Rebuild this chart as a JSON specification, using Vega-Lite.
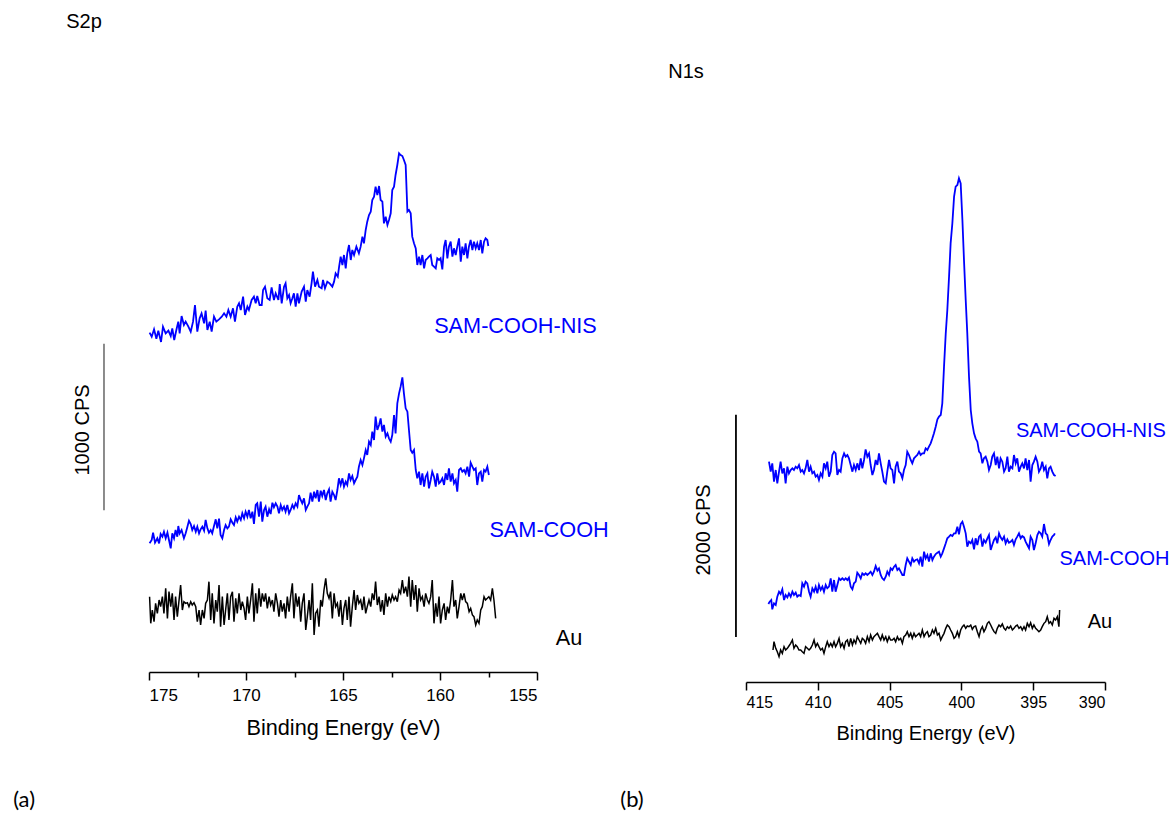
{
"$schema":"https://vega.github.io/schema/vega-lite/v6.json",
"padding":{"left":13,"top":12,"right":0,"bottom":0},
"background":"white",
"config":{"view":{"stroke":null},"font":"Liberation Sans"},
"spacing":209,
"bounds":"flush",
"datasets":{
"sL":[{"x":174.97,"y":2036},{"x":174.86,"y":2012},{"x":174.74,"y":2056},{"x":174.62,"y":2000},{"x":174.52,"y":2048},{"x":174.38,"y":1980},{"x":174.28,"y":2072},{"x":174.14,"y":2032},{"x":174.0,"y":2048},{"x":173.88,"y":2016},{"x":173.8,"y":2062},{"x":173.7,"y":1992},{"x":173.59,"y":2052},{"x":173.49,"y":2102},{"x":173.42,"y":2032},{"x":173.32,"y":2136},{"x":173.2,"y":2082},{"x":173.11,"y":2102},{"x":172.97,"y":2072},{"x":172.85,"y":2042},{"x":172.73,"y":2102},{"x":172.63,"y":2202},{"x":172.51,"y":2042},{"x":172.39,"y":2122},{"x":172.29,"y":2152},{"x":172.16,"y":2092},{"x":172.08,"y":2168},{"x":171.99,"y":2052},{"x":171.87,"y":2102},{"x":171.77,"y":2042},{"x":171.65,"y":2132},{"x":171.53,"y":2102},{"x":171.39,"y":2116},{"x":171.25,"y":2132},{"x":171.13,"y":2152},{"x":171.01,"y":2132},{"x":170.91,"y":2172},{"x":170.79,"y":2132},{"x":170.67,"y":2182},{"x":170.57,"y":2102},{"x":170.45,"y":2192},{"x":170.36,"y":2212},{"x":170.27,"y":2172},{"x":170.15,"y":2252},{"x":170.05,"y":2142},{"x":169.93,"y":2192},{"x":169.85,"y":2172},{"x":169.71,"y":2232},{"x":169.59,"y":2252},{"x":169.5,"y":2212},{"x":169.42,"y":2256},{"x":169.3,"y":2202},{"x":169.19,"y":2202},{"x":169.12,"y":2292},{"x":169.02,"y":2312},{"x":168.9,"y":2242},{"x":168.78,"y":2232},{"x":168.68,"y":2308},{"x":168.56,"y":2232},{"x":168.47,"y":2272},{"x":168.33,"y":2232},{"x":168.26,"y":2328},{"x":168.16,"y":2212},{"x":168.04,"y":2312},{"x":167.96,"y":2332},{"x":167.87,"y":2242},{"x":167.78,"y":2262},{"x":167.7,"y":2212},{"x":167.61,"y":2242},{"x":167.53,"y":2272},{"x":167.44,"y":2192},{"x":167.35,"y":2272},{"x":167.27,"y":2212},{"x":167.13,"y":2282},{"x":167.01,"y":2312},{"x":166.92,"y":2222},{"x":166.84,"y":2292},{"x":166.72,"y":2252},{"x":166.62,"y":2332},{"x":166.55,"y":2402},{"x":166.44,"y":2312},{"x":166.32,"y":2352},{"x":166.24,"y":2312},{"x":166.1,"y":2302},{"x":166.03,"y":2352},{"x":165.93,"y":2302},{"x":165.81,"y":2342},{"x":165.69,"y":2332},{"x":165.55,"y":2312},{"x":165.46,"y":2342},{"x":165.38,"y":2392},{"x":165.27,"y":2372},{"x":165.2,"y":2432},{"x":165.12,"y":2492},{"x":165.03,"y":2442},{"x":164.95,"y":2502},{"x":164.86,"y":2422},{"x":164.78,"y":2512},{"x":164.69,"y":2562},{"x":164.6,"y":2472},{"x":164.52,"y":2532},{"x":164.43,"y":2502},{"x":164.31,"y":2552},{"x":164.18,"y":2512},{"x":164.09,"y":2552},{"x":164.0,"y":2612},{"x":163.92,"y":2572},{"x":163.83,"y":2652},{"x":163.75,"y":2702},{"x":163.66,"y":2742},{"x":163.57,"y":2762},{"x":163.49,"y":2832},{"x":163.4,"y":2852},{"x":163.32,"y":2912},{"x":163.23,"y":2862},{"x":163.14,"y":2916},{"x":163.06,"y":2832},{"x":162.97,"y":2822},{"x":162.89,"y":2692},{"x":162.8,"y":2732},{"x":162.71,"y":2682},{"x":162.63,"y":2712},{"x":162.54,"y":2752},{"x":162.46,"y":2892},{"x":162.37,"y":2912},{"x":162.29,"y":2982},{"x":162.2,"y":3042},{"x":162.11,"y":3112},{"x":162.03,"y":3102},{"x":161.94,"y":3096},{"x":161.86,"y":3072},{"x":161.77,"y":3042},{"x":161.68,"y":2762},{"x":161.6,"y":2772},{"x":161.51,"y":2752},{"x":161.43,"y":2612},{"x":161.34,"y":2572},{"x":161.25,"y":2542},{"x":161.17,"y":2442},{"x":161.08,"y":2492},{"x":161.0,"y":2442},{"x":160.91,"y":2502},{"x":160.82,"y":2422},{"x":160.74,"y":2472},{"x":160.65,"y":2482},{"x":160.57,"y":2492},{"x":160.48,"y":2502},{"x":160.4,"y":2442},{"x":160.31,"y":2432},{"x":160.22,"y":2422},{"x":160.14,"y":2482},{"x":160.05,"y":2472},{"x":159.97,"y":2482},{"x":159.88,"y":2416},{"x":159.79,"y":2552},{"x":159.71,"y":2592},{"x":159.62,"y":2482},{"x":159.54,"y":2552},{"x":159.45,"y":2582},{"x":159.36,"y":2492},{"x":159.28,"y":2542},{"x":159.19,"y":2502},{"x":159.11,"y":2552},{"x":159.02,"y":2602},{"x":158.93,"y":2462},{"x":158.85,"y":2552},{"x":158.76,"y":2502},{"x":158.68,"y":2572},{"x":158.59,"y":2482},{"x":158.51,"y":2552},{"x":158.42,"y":2592},{"x":158.33,"y":2532},{"x":158.25,"y":2582},{"x":158.16,"y":2542},{"x":158.08,"y":2572},{"x":157.99,"y":2532},{"x":157.9,"y":2592},{"x":157.82,"y":2512},{"x":157.73,"y":2582},{"x":157.65,"y":2602},{"x":157.56,"y":2592},{"x":157.51,"y":2556}],
"cL":[{"x":174.97,"y":772},{"x":174.86,"y":792},{"x":174.79,"y":836},{"x":174.69,"y":776},{"x":174.57,"y":802},{"x":174.48,"y":772},{"x":174.40,"y":828},{"x":174.31,"y":812},{"x":174.23,"y":842},{"x":174.14,"y":802},{"x":174.05,"y":836},{"x":173.97,"y":792},{"x":173.88,"y":742},{"x":173.80,"y":832},{"x":173.71,"y":802},{"x":173.63,"y":852},{"x":173.54,"y":812},{"x":173.49,"y":876},{"x":173.42,"y":832},{"x":173.32,"y":852},{"x":173.20,"y":802},{"x":173.11,"y":832},{"x":173.02,"y":872},{"x":172.94,"y":908},{"x":172.85,"y":888},{"x":172.77,"y":852},{"x":172.68,"y":876},{"x":172.59,"y":842},{"x":172.51,"y":872},{"x":172.42,"y":832},{"x":172.34,"y":856},{"x":172.25,"y":872},{"x":172.16,"y":848},{"x":172.08,"y":912},{"x":171.99,"y":862},{"x":171.91,"y":836},{"x":171.82,"y":852},{"x":171.74,"y":832},{"x":171.65,"y":876},{"x":171.56,"y":916},{"x":171.48,"y":862},{"x":171.39,"y":920},{"x":171.31,"y":822},{"x":171.22,"y":802},{"x":171.13,"y":852},{"x":171.05,"y":882},{"x":170.96,"y":862},{"x":170.88,"y":872},{"x":170.79,"y":916},{"x":170.70,"y":896},{"x":170.62,"y":882},{"x":170.53,"y":928},{"x":170.45,"y":902},{"x":170.36,"y":932},{"x":170.27,"y":912},{"x":170.19,"y":952},{"x":170.10,"y":922},{"x":170.02,"y":962},{"x":169.93,"y":932},{"x":169.85,"y":972},{"x":169.76,"y":922},{"x":169.67,"y":962},{"x":169.59,"y":888},{"x":169.50,"y":1002},{"x":169.42,"y":1012},{"x":169.33,"y":932},{"x":169.24,"y":1022},{"x":169.16,"y":902},{"x":169.07,"y":972},{"x":168.99,"y":992},{"x":168.90,"y":932},{"x":168.81,"y":976},{"x":168.73,"y":948},{"x":168.64,"y":1016},{"x":168.56,"y":988},{"x":168.47,"y":1012},{"x":168.38,"y":992},{"x":168.30,"y":952},{"x":168.21,"y":1002},{"x":168.13,"y":972},{"x":168.04,"y":992},{"x":167.96,"y":962},{"x":167.87,"y":1002},{"x":167.78,"y":952},{"x":167.70,"y":972},{"x":167.61,"y":1002},{"x":167.53,"y":982},{"x":167.44,"y":1012},{"x":167.35,"y":992},{"x":167.27,"y":1062},{"x":167.18,"y":1032},{"x":167.10,"y":1012},{"x":167.01,"y":1042},{"x":166.92,"y":972},{"x":166.84,"y":992},{"x":166.75,"y":1012},{"x":166.67,"y":1076},{"x":166.58,"y":1022},{"x":166.49,"y":1082},{"x":166.41,"y":1042},{"x":166.32,"y":1092},{"x":166.24,"y":1022},{"x":166.15,"y":1088},{"x":166.07,"y":1056},{"x":165.98,"y":1092},{"x":165.89,"y":1032},{"x":165.81,"y":1072},{"x":165.72,"y":1096},{"x":165.64,"y":1022},{"x":165.55,"y":1082},{"x":165.46,"y":1062},{"x":165.38,"y":1032},{"x":165.29,"y":1092},{"x":165.21,"y":1162},{"x":165.12,"y":1122},{"x":165.03,"y":1162},{"x":164.95,"y":1112},{"x":164.86,"y":1142},{"x":164.78,"y":1122},{"x":164.69,"y":1192},{"x":164.61,"y":1152},{"x":164.52,"y":1176},{"x":164.43,"y":1132},{"x":164.35,"y":1152},{"x":164.26,"y":1172},{"x":164.18,"y":1232},{"x":164.09,"y":1272},{"x":164.00,"y":1242},{"x":163.92,"y":1282},{"x":163.83,"y":1332},{"x":163.75,"y":1302},{"x":163.66,"y":1382},{"x":163.57,"y":1362},{"x":163.49,"y":1442},{"x":163.40,"y":1392},{"x":163.32,"y":1532},{"x":163.23,"y":1452},{"x":163.14,"y":1482},{"x":163.06,"y":1522},{"x":162.97,"y":1442},{"x":162.89,"y":1482},{"x":162.80,"y":1412},{"x":162.71,"y":1432},{"x":162.63,"y":1402},{"x":162.54,"y":1382},{"x":162.46,"y":1422},{"x":162.37,"y":1542},{"x":162.29,"y":1432},{"x":162.20,"y":1612},{"x":162.11,"y":1672},{"x":162.03,"y":1712},{"x":161.94,"y":1768},{"x":161.86,"y":1672},{"x":161.77,"y":1582},{"x":161.68,"y":1562},{"x":161.60,"y":1452},{"x":161.51,"y":1332},{"x":161.43,"y":1316},{"x":161.34,"y":1332},{"x":161.25,"y":1212},{"x":161.17,"y":1162},{"x":161.08,"y":1202},{"x":161.00,"y":1122},{"x":160.91,"y":1192},{"x":160.82,"y":1112},{"x":160.74,"y":1172},{"x":160.65,"y":1192},{"x":160.57,"y":1102},{"x":160.48,"y":1152},{"x":160.40,"y":1202},{"x":160.31,"y":1172},{"x":160.22,"y":1112},{"x":160.14,"y":1192},{"x":160.05,"y":1132},{"x":159.97,"y":1142},{"x":159.88,"y":1162},{"x":159.79,"y":1122},{"x":159.71,"y":1192},{"x":159.62,"y":1152},{"x":159.54,"y":1222},{"x":159.45,"y":1142},{"x":159.36,"y":1192},{"x":159.28,"y":1132},{"x":159.19,"y":1152},{"x":159.11,"y":1082},{"x":159.02,"y":1212},{"x":158.93,"y":1222},{"x":158.85,"y":1202},{"x":158.76,"y":1212},{"x":158.68,"y":1192},{"x":158.59,"y":1232},{"x":158.50,"y":1172},{"x":158.42,"y":1256},{"x":158.33,"y":1232},{"x":158.25,"y":1212},{"x":158.16,"y":1222},{"x":158.08,"y":1122},{"x":157.99,"y":1192},{"x":157.90,"y":1202},{"x":157.82,"y":1142},{"x":157.73,"y":1212},{"x":157.65,"y":1202},{"x":157.56,"y":1232},{"x":157.48,"y":1182}],
"aL":[{"x":174.97,"y":452},{"x":174.91,"y":292},{"x":174.83,"y":372},{"x":174.74,"y":302},{"x":174.66,"y":412},{"x":174.57,"y":352},{"x":174.48,"y":432},{"x":174.40,"y":392},{"x":174.31,"y":452},{"x":174.23,"y":352},{"x":174.14,"y":502},{"x":174.05,"y":322},{"x":173.97,"y":482},{"x":173.88,"y":392},{"x":173.80,"y":472},{"x":173.71,"y":312},{"x":173.63,"y":452},{"x":173.54,"y":332},{"x":173.45,"y":432},{"x":173.37,"y":522},{"x":173.28,"y":372},{"x":173.20,"y":422},{"x":173.11,"y":412},{"x":173.02,"y":416},{"x":172.94,"y":392},{"x":172.85,"y":422},{"x":172.77,"y":402},{"x":172.68,"y":416},{"x":172.59,"y":392},{"x":172.51,"y":302},{"x":172.42,"y":372},{"x":172.34,"y":282},{"x":172.25,"y":372},{"x":172.16,"y":322},{"x":172.08,"y":412},{"x":171.99,"y":432},{"x":171.91,"y":542},{"x":171.82,"y":312},{"x":171.74,"y":472},{"x":171.65,"y":292},{"x":171.56,"y":432},{"x":171.48,"y":362},{"x":171.39,"y":522},{"x":171.31,"y":272},{"x":171.22,"y":452},{"x":171.13,"y":282},{"x":171.05,"y":372},{"x":170.96,"y":472},{"x":170.88,"y":312},{"x":170.79,"y":452},{"x":170.70,"y":482},{"x":170.62,"y":302},{"x":170.53,"y":442},{"x":170.45,"y":352},{"x":170.36,"y":472},{"x":170.27,"y":372},{"x":170.19,"y":422},{"x":170.10,"y":382},{"x":170.02,"y":312},{"x":169.93,"y":452},{"x":169.85,"y":352},{"x":169.76,"y":432},{"x":169.67,"y":532},{"x":169.59,"y":302},{"x":169.50,"y":472},{"x":169.42,"y":352},{"x":169.33,"y":502},{"x":169.24,"y":392},{"x":169.16,"y":472},{"x":169.07,"y":422},{"x":168.99,"y":472},{"x":168.90,"y":382},{"x":168.81,"y":452},{"x":168.73,"y":402},{"x":168.64,"y":432},{"x":168.56,"y":362},{"x":168.47,"y":472},{"x":168.38,"y":412},{"x":168.30,"y":332},{"x":168.21,"y":432},{"x":168.13,"y":362},{"x":168.04,"y":412},{"x":167.96,"y":322},{"x":167.87,"y":452},{"x":167.78,"y":362},{"x":167.70,"y":452},{"x":167.61,"y":532},{"x":167.53,"y":322},{"x":167.44,"y":472},{"x":167.35,"y":392},{"x":167.27,"y":452},{"x":167.18,"y":302},{"x":167.10,"y":412},{"x":167.01,"y":472},{"x":166.92,"y":252},{"x":166.84,"y":332},{"x":166.75,"y":432},{"x":166.67,"y":312},{"x":166.58,"y":532},{"x":166.49,"y":222},{"x":166.41,"y":352},{"x":166.32,"y":372},{"x":166.24,"y":272},{"x":166.15,"y":432},{"x":166.07,"y":392},{"x":165.98,"y":492},{"x":165.89,"y":562},{"x":165.81,"y":472},{"x":165.72,"y":442},{"x":165.64,"y":482},{"x":165.55,"y":322},{"x":165.46,"y":472},{"x":165.38,"y":392},{"x":165.29,"y":412},{"x":165.21,"y":332},{"x":165.12,"y":432},{"x":165.03,"y":282},{"x":164.95,"y":382},{"x":164.86,"y":432},{"x":164.78,"y":312},{"x":164.69,"y":452},{"x":164.61,"y":272},{"x":164.52,"y":392},{"x":164.43,"y":492},{"x":164.35,"y":372},{"x":164.26,"y":462},{"x":164.18,"y":412},{"x":164.09,"y":432},{"x":164.00,"y":372},{"x":163.92,"y":452},{"x":163.83,"y":352},{"x":163.75,"y":392},{"x":163.66,"y":432},{"x":163.57,"y":392},{"x":163.49,"y":472},{"x":163.40,"y":432},{"x":163.32,"y":542},{"x":163.23,"y":402},{"x":163.14,"y":452},{"x":163.06,"y":362},{"x":162.97,"y":432},{"x":162.89,"y":342},{"x":162.80,"y":472},{"x":162.71,"y":392},{"x":162.63,"y":452},{"x":162.54,"y":422},{"x":162.46,"y":462},{"x":162.37,"y":432},{"x":162.29,"y":452},{"x":162.20,"y":422},{"x":162.11,"y":492},{"x":162.03,"y":472},{"x":161.94,"y":552},{"x":161.86,"y":472},{"x":161.77,"y":512},{"x":161.68,"y":452},{"x":161.60,"y":572},{"x":161.51,"y":392},{"x":161.43,"y":552},{"x":161.34,"y":432},{"x":161.25,"y":522},{"x":161.17,"y":362},{"x":161.08,"y":502},{"x":161.00,"y":432},{"x":160.91,"y":452},{"x":160.82,"y":392},{"x":160.74,"y":472},{"x":160.65,"y":432},{"x":160.57,"y":412},{"x":160.48,"y":452},{"x":160.40,"y":552},{"x":160.31,"y":292},{"x":160.22,"y":412},{"x":160.14,"y":332},{"x":160.05,"y":452},{"x":159.97,"y":292},{"x":159.88,"y":372},{"x":159.79,"y":412},{"x":159.71,"y":312},{"x":159.62,"y":392},{"x":159.54,"y":352},{"x":159.45,"y":432},{"x":159.36,"y":552},{"x":159.28,"y":392},{"x":159.19,"y":432},{"x":159.11,"y":322},{"x":159.02,"y":392},{"x":158.93,"y":472},{"x":158.85,"y":432},{"x":158.76,"y":472},{"x":158.68,"y":422},{"x":158.59,"y":412},{"x":158.50,"y":362},{"x":158.42,"y":382},{"x":158.33,"y":342},{"x":158.25,"y":332},{"x":158.16,"y":282},{"x":158.08,"y":312},{"x":157.99,"y":292},{"x":157.90,"y":372},{"x":157.82,"y":392},{"x":157.73,"y":452},{"x":157.65,"y":432},{"x":157.56,"y":442},{"x":157.48,"y":452},{"x":157.39,"y":432},{"x":157.30,"y":502},{"x":157.22,"y":432},{"x":157.13,"y":322}],
"sR":[{"x":413.40,"y":1983},{"x":413.28,"y":1893},{"x":413.17,"y":1968},{"x":413.05,"y":1803},{"x":412.93,"y":1908},{"x":412.82,"y":1788},{"x":412.70,"y":1893},{"x":412.59,"y":1983},{"x":412.47,"y":1878},{"x":412.35,"y":1923},{"x":412.24,"y":1788},{"x":412.12,"y":1938},{"x":412.01,"y":1878},{"x":411.89,"y":1908},{"x":411.77,"y":1923},{"x":411.66,"y":1908},{"x":411.54,"y":1938},{"x":411.43,"y":1923},{"x":411.31,"y":1953},{"x":411.19,"y":1893},{"x":411.08,"y":1908},{"x":410.96,"y":1878},{"x":410.85,"y":1923},{"x":410.73,"y":1998},{"x":410.61,"y":1893},{"x":410.50,"y":1938},{"x":410.38,"y":1878},{"x":410.26,"y":1893},{"x":410.15,"y":1848},{"x":410.03,"y":1863},{"x":409.92,"y":1818},{"x":409.80,"y":1878},{"x":409.68,"y":1848},{"x":409.57,"y":1968},{"x":409.45,"y":1923},{"x":409.34,"y":1983},{"x":409.22,"y":1848},{"x":409.10,"y":1893},{"x":408.99,"y":2043},{"x":408.87,"y":2073},{"x":408.76,"y":2058},{"x":408.64,"y":1863},{"x":408.52,"y":1908},{"x":408.41,"y":1893},{"x":408.29,"y":2013},{"x":408.17,"y":2058},{"x":408.06,"y":2028},{"x":407.94,"y":2043},{"x":407.83,"y":2013},{"x":407.71,"y":1953},{"x":407.59,"y":1893},{"x":407.48,"y":1953},{"x":407.36,"y":1908},{"x":407.25,"y":1968},{"x":407.13,"y":1908},{"x":407.01,"y":2013},{"x":406.90,"y":1923},{"x":406.78,"y":1998},{"x":406.67,"y":2094},{"x":406.55,"y":2028},{"x":406.43,"y":2058},{"x":406.32,"y":1953},{"x":406.20,"y":1863},{"x":406.09,"y":1908},{"x":405.97,"y":1998},{"x":405.85,"y":1953},{"x":405.74,"y":2058},{"x":405.62,"y":1968},{"x":405.51,"y":1893},{"x":405.39,"y":1803},{"x":405.27,"y":1788},{"x":405.16,"y":1893},{"x":405.04,"y":1998},{"x":404.93,"y":1923},{"x":404.81,"y":1908},{"x":404.69,"y":1788},{"x":404.58,"y":1938},{"x":404.46,"y":1983},{"x":404.35,"y":1893},{"x":404.23,"y":1878},{"x":404.11,"y":1833},{"x":404.00,"y":1908},{"x":403.88,"y":1953},{"x":403.77,"y":2073},{"x":403.65,"y":2043},{"x":403.53,"y":1998},{"x":403.42,"y":1968},{"x":403.30,"y":2013},{"x":403.19,"y":2028},{"x":403.07,"y":2043},{"x":402.95,"y":2073},{"x":402.84,"y":2043},{"x":402.72,"y":2058},{"x":402.60,"y":2058},{"x":402.49,"y":2103},{"x":402.37,"y":2088},{"x":402.26,"y":2118},{"x":402.14,"y":2148},{"x":402.02,"y":2193},{"x":401.91,"y":2238},{"x":401.79,"y":2298},{"x":401.67,"y":2364},{"x":401.56,"y":2388},{"x":401.44,"y":2403},{"x":401.33,"y":2508},{"x":401.21,"y":2838},{"x":401.09,"y":3138},{"x":400.98,"y":3348},{"x":400.86,"y":3648},{"x":400.75,"y":3948},{"x":400.63,"y":4128},{"x":400.51,"y":4368},{"x":400.40,"y":4458},{"x":400.28,"y":4473},{"x":400.17,"y":4533},{"x":400.05,"y":4488},{"x":399.93,"y":4158},{"x":399.82,"y":3798},{"x":399.70,"y":3438},{"x":399.59,"y":3138},{"x":399.47,"y":2748},{"x":399.35,"y":2448},{"x":399.24,"y":2328},{"x":399.12,"y":2238},{"x":399.01,"y":2193},{"x":398.89,"y":2163},{"x":398.77,"y":2073},{"x":398.66,"y":2058},{"x":398.54,"y":1968},{"x":398.43,"y":2013},{"x":398.31,"y":2028},{"x":398.19,"y":1983},{"x":398.08,"y":1908},{"x":397.96,"y":1953},{"x":397.85,"y":2028},{"x":397.73,"y":2058},{"x":397.61,"y":1953},{"x":397.50,"y":2028},{"x":397.38,"y":1923},{"x":397.27,"y":2013},{"x":397.15,"y":1983},{"x":397.03,"y":1893},{"x":396.92,"y":1923},{"x":396.80,"y":2028},{"x":396.69,"y":1893},{"x":396.57,"y":1938},{"x":396.45,"y":1923},{"x":396.34,"y":2043},{"x":396.22,"y":1968},{"x":396.11,"y":2013},{"x":395.99,"y":1893},{"x":395.87,"y":1938},{"x":395.76,"y":1968},{"x":395.64,"y":1923},{"x":395.53,"y":2013},{"x":395.41,"y":1908},{"x":395.29,"y":1998},{"x":395.18,"y":1803},{"x":395.06,"y":1953},{"x":394.95,"y":1983},{"x":394.83,"y":2028},{"x":394.71,"y":1983},{"x":394.60,"y":1893},{"x":394.48,"y":1923},{"x":394.37,"y":1983},{"x":394.25,"y":1908},{"x":394.13,"y":1938},{"x":394.02,"y":1833},{"x":393.90,"y":1923},{"x":393.79,"y":1938},{"x":393.67,"y":1893},{"x":393.55,"y":1863},{"x":393.44,"y":1854}],
"cR":[{"x":413.44,"y":702},{"x":413.35,"y":723},{"x":413.24,"y":738},{"x":413.17,"y":654},{"x":413.05,"y":708},{"x":412.93,"y":693},{"x":412.82,"y":768},{"x":412.70,"y":813},{"x":412.59,"y":792},{"x":412.47,"y":834},{"x":412.35,"y":738},{"x":412.24,"y":783},{"x":412.12,"y":762},{"x":412.01,"y":798},{"x":411.89,"y":768},{"x":411.77,"y":813},{"x":411.66,"y":783},{"x":411.54,"y":804},{"x":411.43,"y":768},{"x":411.31,"y":783},{"x":411.19,"y":774},{"x":411.08,"y":888},{"x":410.96,"y":858},{"x":410.85,"y":903},{"x":410.73,"y":888},{"x":410.61,"y":813},{"x":410.50,"y":768},{"x":410.38,"y":843},{"x":410.26,"y":813},{"x":410.15,"y":858},{"x":410.03,"y":798},{"x":409.92,"y":873},{"x":409.80,"y":828},{"x":409.68,"y":858},{"x":409.57,"y":813},{"x":409.45,"y":873},{"x":409.34,"y":843},{"x":409.22,"y":858},{"x":409.10,"y":933},{"x":408.99,"y":813},{"x":408.87,"y":918},{"x":408.76,"y":813},{"x":408.64,"y":873},{"x":408.52,"y":933},{"x":408.41,"y":918},{"x":408.29,"y":933},{"x":408.17,"y":918},{"x":408.06,"y":933},{"x":407.94,"y":918},{"x":407.83,"y":939},{"x":407.71,"y":858},{"x":407.59,"y":834},{"x":407.48,"y":888},{"x":407.36,"y":903},{"x":407.25,"y":984},{"x":407.13,"y":963},{"x":407.01,"y":933},{"x":406.90,"y":978},{"x":406.78,"y":963},{"x":406.67,"y":978},{"x":406.55,"y":963},{"x":406.43,"y":978},{"x":406.32,"y":993},{"x":406.20,"y":963},{"x":406.09,"y":993},{"x":405.97,"y":1044},{"x":405.85,"y":1002},{"x":405.74,"y":1023},{"x":405.62,"y":963},{"x":405.51,"y":933},{"x":405.39,"y":918},{"x":405.27,"y":948},{"x":405.16,"y":993},{"x":405.04,"y":963},{"x":404.93,"y":1023},{"x":404.81,"y":1008},{"x":404.69,"y":1038},{"x":404.58,"y":1053},{"x":404.46,"y":1008},{"x":404.35,"y":1023},{"x":404.23,"y":993},{"x":404.11,"y":963},{"x":404.00,"y":963},{"x":403.88,"y":1053},{"x":403.77,"y":1113},{"x":403.65,"y":1083},{"x":403.53,"y":1053},{"x":403.42,"y":1113},{"x":403.30,"y":1083},{"x":403.19,"y":1098},{"x":403.07,"y":1104},{"x":402.95,"y":1068},{"x":402.84,"y":1128},{"x":402.72,"y":1038},{"x":402.60,"y":1173},{"x":402.49,"y":1113},{"x":402.37,"y":1143},{"x":402.26,"y":1083},{"x":402.14,"y":1158},{"x":402.02,"y":1098},{"x":401.91,"y":1128},{"x":401.79,"y":1152},{"x":401.67,"y":1164},{"x":401.56,"y":1173},{"x":401.44,"y":1128},{"x":401.33,"y":1158},{"x":401.21,"y":1203},{"x":401.09,"y":1248},{"x":400.98,"y":1293},{"x":400.86,"y":1308},{"x":400.75,"y":1323},{"x":400.63,"y":1314},{"x":400.51,"y":1338},{"x":400.40,"y":1338},{"x":400.28,"y":1398},{"x":400.17,"y":1329},{"x":400.05,"y":1422},{"x":399.93,"y":1443},{"x":399.82,"y":1398},{"x":399.70,"y":1338},{"x":399.59,"y":1218},{"x":399.47,"y":1263},{"x":399.35,"y":1248},{"x":399.24,"y":1278},{"x":399.12,"y":1194},{"x":399.01,"y":1293},{"x":398.89,"y":1233},{"x":398.77,"y":1308},{"x":398.66,"y":1323},{"x":398.54,"y":1218},{"x":398.43,"y":1278},{"x":398.31,"y":1254},{"x":398.19,"y":1293},{"x":398.08,"y":1323},{"x":397.96,"y":1188},{"x":397.85,"y":1233},{"x":397.73,"y":1278},{"x":397.61,"y":1302},{"x":397.50,"y":1248},{"x":397.38,"y":1338},{"x":397.27,"y":1302},{"x":397.15,"y":1278},{"x":397.03,"y":1308},{"x":396.92,"y":1248},{"x":396.80,"y":1284},{"x":396.69,"y":1254},{"x":396.57,"y":1263},{"x":396.45,"y":1278},{"x":396.34,"y":1233},{"x":396.22,"y":1284},{"x":396.11,"y":1308},{"x":395.99,"y":1338},{"x":395.87,"y":1293},{"x":395.76,"y":1314},{"x":395.64,"y":1302},{"x":395.53,"y":1263},{"x":395.41,"y":1233},{"x":395.29,"y":1203},{"x":395.18,"y":1308},{"x":395.06,"y":1278},{"x":394.95,"y":1188},{"x":394.83,"y":1248},{"x":394.71,"y":1323},{"x":394.60,"y":1353},{"x":394.48,"y":1338},{"x":394.37,"y":1308},{"x":394.25,"y":1422},{"x":394.13,"y":1338},{"x":394.02,"y":1323},{"x":393.90,"y":1242},{"x":393.79,"y":1278},{"x":393.67,"y":1308},{"x":393.55,"y":1323},{"x":393.49,"y":1338}],
"aR":[{"x":413.12,"y":288},{"x":413.05,"y":363},{"x":412.93,"y":303},{"x":412.82,"y":273},{"x":412.70,"y":228},{"x":412.59,"y":288},{"x":412.47,"y":258},{"x":412.35,"y":318},{"x":412.24,"y":288},{"x":412.12,"y":303},{"x":412.01,"y":324},{"x":411.89,"y":348},{"x":411.77,"y":378},{"x":411.66,"y":303},{"x":411.54,"y":333},{"x":411.43,"y":318},{"x":411.31,"y":288},{"x":411.19,"y":288},{"x":411.08,"y":273},{"x":410.96,"y":258},{"x":410.85,"y":318},{"x":410.73,"y":303},{"x":410.61,"y":288},{"x":410.50,"y":303},{"x":410.38,"y":333},{"x":410.26,"y":378},{"x":410.15,"y":318},{"x":410.03,"y":348},{"x":409.92,"y":318},{"x":409.80,"y":288},{"x":409.68,"y":303},{"x":409.57,"y":258},{"x":409.45,"y":318},{"x":409.34,"y":363},{"x":409.22,"y":318},{"x":409.10,"y":348},{"x":408.99,"y":318},{"x":408.87,"y":363},{"x":408.76,"y":318},{"x":408.64,"y":348},{"x":408.52,"y":393},{"x":408.41,"y":318},{"x":408.29,"y":348},{"x":408.17,"y":303},{"x":408.06,"y":363},{"x":407.94,"y":378},{"x":407.83,"y":318},{"x":407.71,"y":393},{"x":407.59,"y":333},{"x":407.48,"y":378},{"x":407.36,"y":348},{"x":407.25,"y":408},{"x":407.13,"y":378},{"x":407.01,"y":348},{"x":406.90,"y":393},{"x":406.78,"y":378},{"x":406.67,"y":348},{"x":406.55,"y":408},{"x":406.43,"y":363},{"x":406.32,"y":423},{"x":406.20,"y":378},{"x":406.09,"y":408},{"x":405.97,"y":423},{"x":405.85,"y":438},{"x":405.74,"y":408},{"x":405.62,"y":378},{"x":405.51,"y":423},{"x":405.39,"y":378},{"x":405.27,"y":408},{"x":405.16,"y":363},{"x":405.04,"y":408},{"x":404.93,"y":378},{"x":404.81,"y":378},{"x":404.69,"y":393},{"x":404.58,"y":363},{"x":404.46,"y":408},{"x":404.35,"y":378},{"x":404.23,"y":393},{"x":404.11,"y":348},{"x":404.00,"y":408},{"x":403.88,"y":423},{"x":403.77,"y":453},{"x":403.65,"y":408},{"x":403.53,"y":438},{"x":403.42,"y":393},{"x":403.30,"y":438},{"x":403.19,"y":408},{"x":403.07,"y":423},{"x":402.95,"y":438},{"x":402.84,"y":408},{"x":402.72,"y":468},{"x":402.60,"y":408},{"x":402.49,"y":438},{"x":402.37,"y":453},{"x":402.26,"y":408},{"x":402.14,"y":423},{"x":402.02,"y":468},{"x":401.91,"y":438},{"x":401.79,"y":483},{"x":401.67,"y":423},{"x":401.56,"y":438},{"x":401.44,"y":378},{"x":401.33,"y":408},{"x":401.21,"y":438},{"x":401.09,"y":483},{"x":400.98,"y":513},{"x":400.86,"y":498},{"x":400.75,"y":468},{"x":400.63,"y":438},{"x":400.51,"y":393},{"x":400.40,"y":408},{"x":400.28,"y":453},{"x":400.17,"y":408},{"x":400.05,"y":468},{"x":399.93,"y":498},{"x":399.82,"y":513},{"x":399.70,"y":483},{"x":399.59,"y":504},{"x":399.47,"y":498},{"x":399.35,"y":513},{"x":399.24,"y":474},{"x":399.12,"y":498},{"x":399.01,"y":504},{"x":398.89,"y":453},{"x":398.77,"y":408},{"x":398.66,"y":468},{"x":398.54,"y":498},{"x":398.43,"y":453},{"x":398.31,"y":483},{"x":398.19,"y":528},{"x":398.08,"y":543},{"x":397.96,"y":513},{"x":397.85,"y":483},{"x":397.73,"y":453},{"x":397.61,"y":438},{"x":397.50,"y":483},{"x":397.38,"y":513},{"x":397.27,"y":498},{"x":397.15,"y":522},{"x":397.03,"y":483},{"x":396.92,"y":468},{"x":396.80,"y":498},{"x":396.69,"y":483},{"x":396.57,"y":504},{"x":396.45,"y":468},{"x":396.34,"y":483},{"x":396.22,"y":504},{"x":396.11,"y":513},{"x":395.99,"y":483},{"x":395.87,"y":498},{"x":395.76,"y":468},{"x":395.64,"y":498},{"x":395.53,"y":468},{"x":395.41,"y":528},{"x":395.29,"y":498},{"x":395.18,"y":534},{"x":395.06,"y":483},{"x":394.95,"y":513},{"x":394.83,"y":483},{"x":394.71,"y":468},{"x":394.60,"y":453},{"x":394.48,"y":468},{"x":394.37,"y":498},{"x":394.25,"y":528},{"x":394.13,"y":543},{"x":394.02,"y":588},{"x":393.90,"y":528},{"x":393.79,"y":543},{"x":393.67,"y":513},{"x":393.55,"y":573},{"x":393.44,"y":558},{"x":393.32,"y":588},{"x":393.21,"y":498},{"x":393.16,"y":648}]
},
"hconcat":[
{"width":388,"height":578,
"layer":[
{"data":{"name":"sL"},"mark":{"type":"line","color":"#0000ff","strokeWidth":1.8},
"encoding":{"x":{"field":"x","type":"quantitative","scale":{"domain":[175,155],"nice":false,"zero":false},
"axis":{"title":"Binding Energy (eV)","values":[175,172.5,170,167.5,165,162.5,160,157.5,155],"labelExpr":"datum.value % 5 === 0 ? datum.label : ''","labelOverlap":false,"grid":false,"domainColor":"black","domainWidth":1.5,"tickColor":"black","tickWidth":1.5,"tickSize":{"condition":{"test":"datum.value % 5 !== 0","value":5},"value":8},"labelFontSize":17,"labelColor":"black","labelPadding":7,"labelFont":"Liberation Sans","titleFont":"Liberation Sans","titleFontSize":21.7,"titleFontWeight":"normal","titleColor":"black","titlePadding":14}},
"y":{"field":"y","type":"quantitative","scale":{"domain":[0,3468],"nice":false,"zero":false},"axis":null}}},
{"data":{"name":"cL"},"mark":{"type":"line","color":"#0000ff","strokeWidth":1.8},"encoding":{"x":{"field":"x","type":"quantitative"},"y":{"field":"y","type":"quantitative"}}},
{"data":{"name":"aL"},"mark":{"type":"line","color":"black","strokeWidth":1.5},"encoding":{"x":{"field":"x","type":"quantitative"},"y":{"field":"y","type":"quantitative"}}},
{"data":{"values":[{}]},"mark":{"type":"rule","color":"#666666","strokeWidth":1.5},"encoding":{"x":{"datum":177.32,"type":"quantitative"},"y":{"datum":970,"type":"quantitative"},"y2":{"datum":1970}}},
{"data":{"values":[{}]},"mark":{"type":"text","fontSize":20,"color":"black","align":"center","baseline":"middle"},"encoding":{"x":{"datum":178.35,"type":"quantitative"},"y":{"datum":3900,"type":"quantitative"},"text":{"value":"S2p"}}},
{"data":{"values":[{}]},"mark":{"type":"text","fontSize":20,"color":"black","align":"center","baseline":"middle","angle":270},"encoding":{"x":{"datum":178.40,"type":"quantitative"},"y":{"datum":1452,"type":"quantitative"},"text":{"value":"1000 CPS"}}},
{"data":{"values":[{}]},"mark":{"type":"text","fontSize":21.7,"color":"#0000ff","align":"center","baseline":"alphabetic"},"encoding":{"x":{"datum":156.11,"type":"quantitative"},"y":{"datum":2034,"type":"quantitative"},"text":{"value":"SAM-COOH-NIS"}}},
{"data":{"values":[{}]},"mark":{"type":"text","fontSize":21.7,"color":"#0000ff","align":"center","baseline":"alphabetic"},"encoding":{"x":{"datum":154.38,"type":"quantitative"},"y":{"datum":813,"type":"quantitative"},"text":{"value":"SAM-COOH"}}},
{"data":{"values":[{}]},"mark":{"type":"text","fontSize":21.7,"color":"black","align":"center","baseline":"alphabetic"},"encoding":{"x":{"datum":153.35,"type":"quantitative"},"y":{"datum":165,"type":"quantitative"},"text":{"value":"Au"}}},
{"data":{"values":[{}]},"mark":{"type":"text","fontSize":22,"font":"Lato","color":"black","align":"center","baseline":"middle"},"encoding":{"x":{"datum":181.44,"type":"quantitative"},"y":{"datum":-768,"type":"quantitative"},"text":{"value":"(a)"}}}
]},
{"width":359,"height":588,
"layer":[
{"data":{"name":"sR"},"mark":{"type":"line","color":"#0000ff","strokeWidth":1.8},
"encoding":{"x":{"field":"x","type":"quantitative","scale":{"domain":[415,390],"nice":false,"zero":false},
"axis":{"title":"Binding Energy (eV)","values":[415,412.5,410,407.5,405,402.5,400,397.5,395,392.5,390],"labelExpr":"datum.value % 5 === 0 ? datum.label : ''","labelOverlap":false,"grid":false,"domainColor":"black","domainWidth":1.5,"tickColor":"black","tickWidth":1.5,"tickSize":{"condition":{"test":"datum.value % 5 !== 0","value":5},"value":8},"labelFontSize":16,"labelColor":"black","labelPadding":4,"labelFont":"Liberation Sans","titleFont":"Liberation Sans","titleFontSize":20,"titleFontWeight":"normal","titleColor":"black","titlePadding":13}},
"y":{"field":"y","type":"quantitative","scale":{"domain":[0,5292],"nice":false,"zero":false},"axis":null}}},
{"data":{"name":"cR"},"mark":{"type":"line","color":"#0000ff","strokeWidth":1.8},"encoding":{"x":{"field":"x","type":"quantitative"},"y":{"field":"y","type":"quantitative"}}},
{"data":{"name":"aR"},"mark":{"type":"line","color":"black","strokeWidth":1.5},"encoding":{"x":{"field":"x","type":"quantitative"},"y":{"field":"y","type":"quantitative"}}},
{"data":{"values":[{}]},"mark":{"type":"rule","color":"black","strokeWidth":1.8},"encoding":{"x":{"datum":415.70,"type":"quantitative"},"y":{"datum":405,"type":"quantitative"},"y2":{"datum":2405}}},
{"data":{"values":[{}]},"mark":{"type":"text","fontSize":20,"color":"black","align":"center","baseline":"middle"},"encoding":{"x":{"datum":419.18,"type":"quantitative"},"y":{"datum":5490,"type":"quantitative"},"text":{"value":"N1s"}}},
{"data":{"values":[{}]},"mark":{"type":"text","fontSize":20,"color":"black","align":"center","baseline":"middle","angle":270},"encoding":{"x":{"datum":417.92,"type":"quantitative"},"y":{"datum":1368,"type":"quantitative"},"text":{"value":"2000 CPS"}}},
{"data":{"values":[{}]},"mark":{"type":"text","fontSize":20,"color":"#0000ff","align":"center","baseline":"alphabetic"},"encoding":{"x":{"datum":390.98,"type":"quantitative"},"y":{"datum":2205,"type":"quantitative"},"text":{"value":"SAM-COOH-NIS"}}},
{"data":{"values":[{}]},"mark":{"type":"text","fontSize":20,"color":"#0000ff","align":"center","baseline":"alphabetic"},"encoding":{"x":{"datum":389.34,"type":"quantitative"},"y":{"datum":1053,"type":"quantitative"},"text":{"value":"SAM-COOH"}}},
{"data":{"values":[{}]},"mark":{"type":"text","fontSize":20,"color":"black","align":"center","baseline":"alphabetic"},"encoding":{"x":{"datum":390.35,"type":"quantitative"},"y":{"datum":486,"type":"quantitative"},"text":{"value":"Au"}}},
{"data":{"values":[{}]},"mark":{"type":"text","fontSize":22,"font":"Lato","color":"black","align":"center","baseline":"middle"},"encoding":{"x":{"datum":422.94,"type":"quantitative"},"y":{"datum":-1062,"type":"quantitative"},"text":{"value":"(b)"}}}
]}
]
}
